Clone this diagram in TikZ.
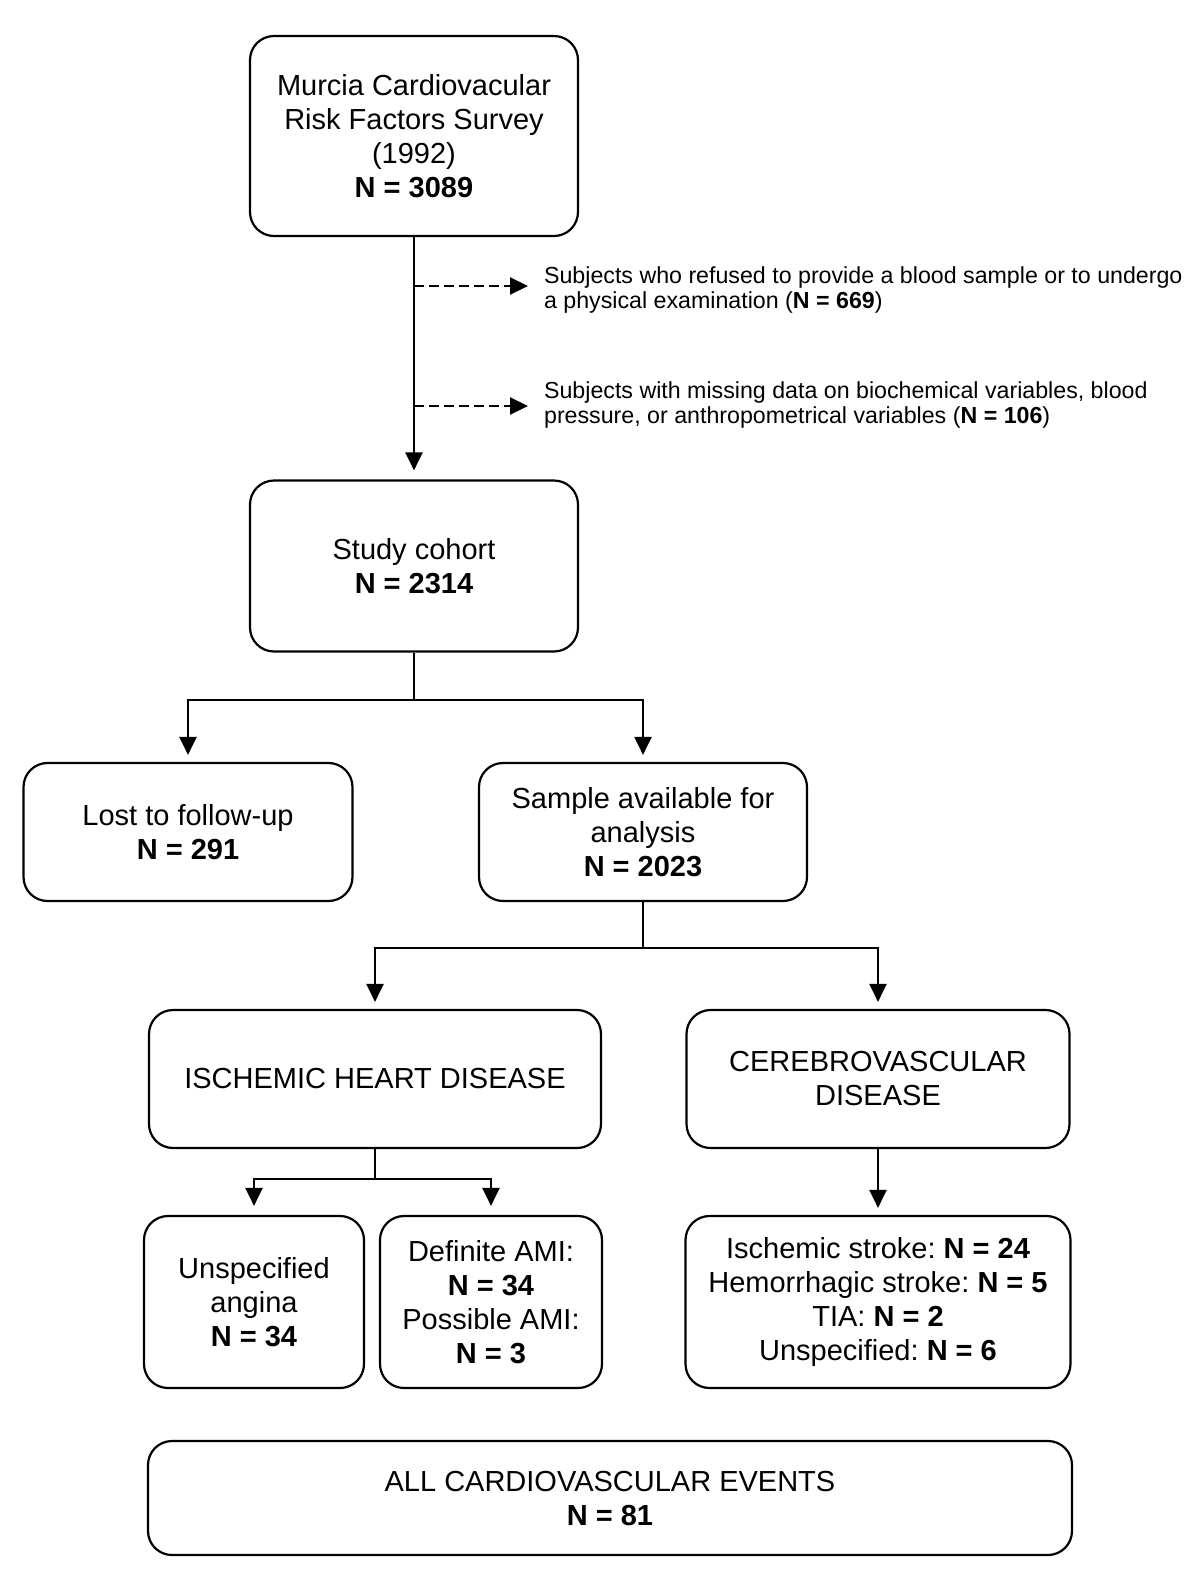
\documentclass[tikz,border=0pt]{standalone}
\usepackage{fontspec}
\setmainfont{Liberation Sans}
\usepackage{tikz}
\usetikzlibrary{positioning}
\usetikzlibrary{arrows.meta}
\frenchspacing

\begin{document}
\begin{tikzpicture}[x=1pt,y=-1pt,line width=2.2pt,>={Triangle[length=18pt,width=17pt]},
	box node/.style={draw,rounded corners=24pt,align=center,inner sep=0pt,font=\fontsize{29}{34}\selectfont},
	note node/.style={anchor=west,align=left,inner sep=0pt,font=\fontsize{23.2}{25}\selectfont}]

	\useasboundingbox (0,0) rectangle (1200,1591);

	\node[box node,minimum width=328pt,minimum height=200pt] (survey) at (414,136) {Murcia Cardiovacular\\Risk Factors Survey\\(1992)\\\textbf{N = 3089}};
	\node[box node,minimum width=328pt,minimum height=171pt] (cohort) at (414,566) {Study cohort\\\textbf{N = 2314}};
	\node[box node,minimum width=329pt,minimum height=138pt] (lost) at (188,832) {Lost to follow-up\\\textbf{N = 291}};
	\node[box node,minimum width=328pt,minimum height=138pt] (sample) at (643,832) {Sample available for\\analysis\\\textbf{N = 2023}};
	\node[box node,minimum width=452pt,minimum height=138pt] (ihd) at (375,1079) {ISCHEMIC HEART DISEASE};
	\node[box node,minimum width=383pt,minimum height=138pt] (cvd) at (878,1079) {CEREBROVASCULAR\\DISEASE};
	\node[box node,minimum width=220pt,minimum height=172pt] (angina) at (254,1302) {Unspecified\\angina\\\textbf{N = 34}};
	\node[box node,minimum width=222pt,minimum height=172pt] (ami) at (491,1302) {Definite AMI:\\\textbf{N = 34}\\Possible AMI:\\\textbf{N = 3}};
	\node[box node,minimum width=385pt,minimum height=172pt] (stroke) at (878,1302) {Ischemic stroke: \textbf{N = 24}\\Hemorrhagic stroke: \textbf{N = 5}\\TIA: \textbf{N = 2}\\Unspecified: \textbf{N = 6}};
	\node[box node,minimum width=924pt,minimum height=114pt] (all) at (610,1498) {ALL CARDIOVASCULAR EVENTS\\\textbf{N = 81}};

	% exclusions
	\node[note node] (refused) at (543,290) {Subjects who refused to provide a blood sample or to undergo\\a physical examination (\textbf{N = 669})};
	\node[note node] (missing) at (543,405) {Subjects with missing data on biochemical variables, blood\\pressure, or anthropometrical variables (\textbf{N = 106})};
	\coordinate (d1) at (414,286);
	\coordinate (d2) at (414,406);

	% junctions
	\coordinate (j1) at (414,700);
	\coordinate (j2) at (643,948);
	\coordinate (j3) at (375,1179);

	\draw[->,shorten >=9pt] (survey) -- (cohort);
	\draw[->,dash pattern=on 10pt off 5pt,shorten >=15pt] (d1) -- (d1 -| refused.west);
	\draw[->,dash pattern=on 10pt off 5pt,shorten >=15pt] (d2) -- (d2 -| missing.west);

	\draw (cohort.south) -- (j1);
	\draw[->,shorten >=7pt] (j1) -| (lost.north);
	\draw[->,shorten >=7pt] (j1) -| (sample.north);

	\draw (sample.south) -- (j2);
	\draw[->,shorten >=7pt] (j2) -| (ihd.north);
	\draw[->,shorten >=7pt] (j2) -| (cvd.north);

	\draw (ihd.south) -- (j3);
	\draw[->,shorten >=9pt] (j3) -| (angina.north);
	\draw[->,shorten >=9pt] (j3) -| (ami.north);

	\draw[->,shorten >=7pt] (cvd.south) -- (stroke.north);
\end{tikzpicture}
\end{document}
